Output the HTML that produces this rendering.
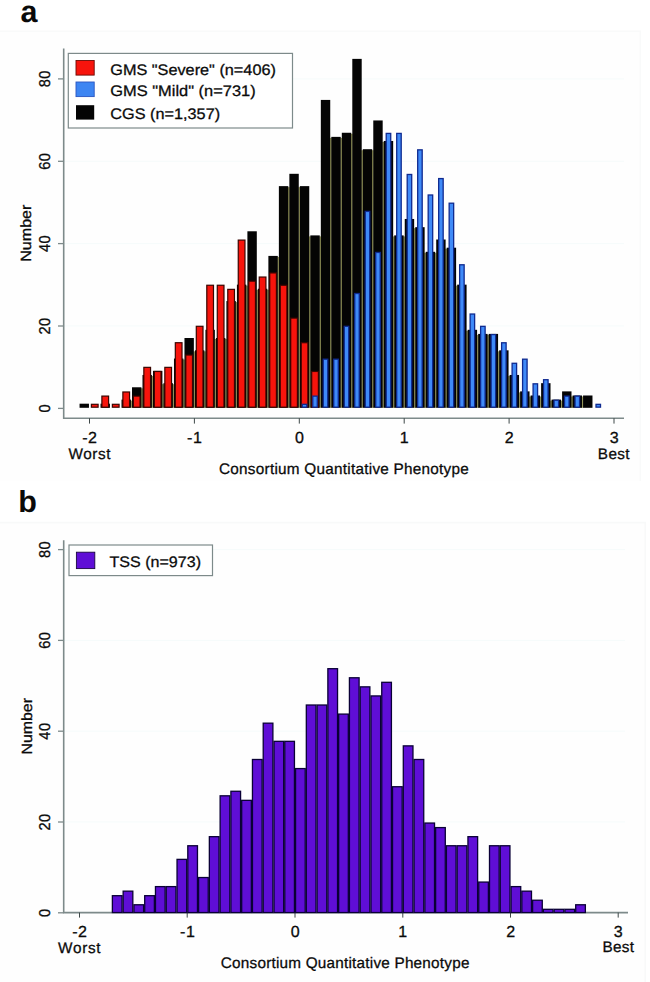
<!DOCTYPE html>
<html><head><meta charset="utf-8"><title>Figure</title>
<style>
html,body{margin:0;padding:0;background:#fff;}
body{width:650px;height:982px;overflow:hidden;font-family:"Liberation Sans",sans-serif;}
svg{display:block;}
text{font-family:"Liberation Sans",sans-serif;fill:#0a0a0a;text-rendering:geometricPrecision;}
.k{font-size:16px;letter-spacing:0.6px;stroke:#0a0a0a;stroke-width:0.3px;}
.ky{font-size:16px;letter-spacing:0.5px;stroke:#0a0a0a;stroke-width:0.3px;}
.n{font-size:14.8px;stroke:#0a0a0a;stroke-width:0.3px;}
.t{font-size:15.3px;stroke:#0a0a0a;stroke-width:0.28px;}
.lab{font-size:30.5px;font-weight:bold;}
</style></head><body>
<svg width="650" height="982" viewBox="0 0 650 982">
<rect x="0" y="0" width="650" height="982" fill="#ffffff"/>
<rect x="0" y="31.3" width="640.3" height="450" fill="#fefefe"/>
<path d="M0 31.3 H640.3 V481" fill="none" stroke="#f9fafa" stroke-width="1.4"/>
<rect x="0" y="522.6" width="645.2" height="459.4" fill="#fefefe"/>
<path d="M0 522.6 H645.2 V982" fill="none" stroke="#f8f9f9" stroke-width="1.6"/>
<!-- panel a -->
<text class="lab" x="20.5" y="22">a</text>
<line x1="64" y1="326.0" x2="624" y2="326.0" stroke="#f5fbfb" stroke-width="1"/>
<line x1="64" y1="243.6" x2="624" y2="243.6" stroke="#f5fbfb" stroke-width="1"/>
<line x1="64" y1="161.3" x2="624" y2="161.3" stroke="#f5fbfb" stroke-width="1"/>
<line x1="64" y1="78.9" x2="624" y2="78.9" stroke="#f5fbfb" stroke-width="1"/>
<path d="M63.7 48.5 V418.2 H624" fill="none" stroke="#7d8a8a" stroke-width="1.6"/>
<line x1="58" y1="408.4" x2="63.7" y2="408.4" stroke="#7d8a8a" stroke-width="1.3"/>
<text class="ky" transform="translate(49.9,408.3) rotate(-90) scale(0.91,0.98)" text-anchor="middle">0</text>
<line x1="58" y1="326.0" x2="63.7" y2="326.0" stroke="#7d8a8a" stroke-width="1.3"/>
<text class="ky" transform="translate(49.9,325.9) rotate(-90) scale(0.91,0.98)" text-anchor="middle">20</text>
<line x1="58" y1="243.6" x2="63.7" y2="243.6" stroke="#7d8a8a" stroke-width="1.3"/>
<text class="ky" transform="translate(49.9,243.5) rotate(-90) scale(0.91,0.98)" text-anchor="middle">40</text>
<line x1="58" y1="161.3" x2="63.7" y2="161.3" stroke="#7d8a8a" stroke-width="1.3"/>
<text class="ky" transform="translate(49.9,161.2) rotate(-90) scale(0.91,0.98)" text-anchor="middle">60</text>
<line x1="58" y1="78.9" x2="63.7" y2="78.9" stroke="#7d8a8a" stroke-width="1.3"/>
<text class="ky" transform="translate(49.9,78.8) rotate(-90) scale(0.91,0.98)" text-anchor="middle">80</text>
<line x1="89.5" y1="418.2" x2="89.5" y2="423.6" stroke="#3e4848" stroke-width="1.0"/>
<text class="k" transform="translate(89.9,442.9) scale(1,1)" text-anchor="middle">-2</text>
<line x1="194.4" y1="418.2" x2="194.4" y2="423.6" stroke="#3e4848" stroke-width="1.0"/>
<text class="k" transform="translate(194.8,442.9) scale(1,1)" text-anchor="middle">-1</text>
<line x1="299.3" y1="418.2" x2="299.3" y2="423.6" stroke="#3e4848" stroke-width="1.0"/>
<text class="k" transform="translate(299.7,442.9) scale(1,1)" text-anchor="middle">0</text>
<line x1="404.2" y1="418.2" x2="404.2" y2="423.6" stroke="#3e4848" stroke-width="1.0"/>
<text class="k" transform="translate(404.6,442.9) scale(1,1)" text-anchor="middle">1</text>
<line x1="509.1" y1="418.2" x2="509.1" y2="423.6" stroke="#3e4848" stroke-width="1.0"/>
<text class="k" transform="translate(509.5,442.9) scale(1,1)" text-anchor="middle">2</text>
<line x1="614.0" y1="418.2" x2="614.0" y2="423.6" stroke="#3e4848" stroke-width="1.0"/>
<text class="k" transform="translate(614.4,442.9) scale(1,1)" text-anchor="middle">3</text>
<g shape-rendering="auto">
<rect x="130.46" y="400.59" width="2.00" height="7.21" fill="#95965a"/>
<rect x="140.95" y="388.28" width="2.00" height="19.53" fill="#95965a"/>
<rect x="151.44" y="375.96" width="2.00" height="31.84" fill="#95965a"/>
<rect x="161.93" y="384.17" width="2.00" height="23.63" fill="#95965a"/>
<rect x="172.42" y="384.17" width="2.00" height="23.63" fill="#95965a"/>
<rect x="182.91" y="359.54" width="2.00" height="48.26" fill="#95965a"/>
<rect x="193.40" y="351.33" width="2.00" height="56.47" fill="#95965a"/>
<rect x="203.89" y="351.33" width="2.00" height="56.47" fill="#95965a"/>
<rect x="214.38" y="339.01" width="2.00" height="68.79" fill="#95965a"/>
<rect x="224.87" y="339.01" width="2.00" height="68.79" fill="#95965a"/>
<rect x="235.36" y="302.07" width="2.00" height="105.73" fill="#95965a"/>
<rect x="245.85" y="285.65" width="2.00" height="122.15" fill="#95965a"/>
<rect x="256.34" y="289.75" width="2.00" height="118.05" fill="#95965a"/>
<rect x="266.83" y="289.75" width="2.00" height="118.05" fill="#95965a"/>
<rect x="277.32" y="256.91" width="2.00" height="150.89" fill="#95965a"/>
<rect x="287.81" y="187.13" width="2.00" height="220.67" fill="#95965a"/>
<rect x="298.30" y="187.13" width="2.00" height="220.67" fill="#95965a"/>
<rect x="308.79" y="236.39" width="2.00" height="171.41" fill="#95965a"/>
<rect x="319.28" y="236.39" width="2.00" height="171.41" fill="#95965a"/>
<rect x="329.77" y="137.87" width="2.00" height="269.93" fill="#95965a"/>
<rect x="340.26" y="137.87" width="2.00" height="269.93" fill="#95965a"/>
<rect x="350.75" y="133.76" width="2.00" height="274.04" fill="#95965a"/>
<rect x="361.24" y="150.19" width="2.00" height="257.62" fill="#95965a"/>
<rect x="371.73" y="150.19" width="2.00" height="257.62" fill="#95965a"/>
<rect x="382.22" y="141.97" width="2.00" height="265.83" fill="#95965a"/>
<rect x="392.71" y="236.39" width="2.00" height="171.41" fill="#95965a"/>
<rect x="403.20" y="236.39" width="2.00" height="171.41" fill="#95965a"/>
<rect x="413.69" y="228.18" width="2.00" height="179.62" fill="#95965a"/>
<rect x="424.18" y="252.81" width="2.00" height="154.99" fill="#95965a"/>
<rect x="434.67" y="252.81" width="2.00" height="154.99" fill="#95965a"/>
<rect x="445.16" y="248.70" width="2.00" height="159.10" fill="#95965a"/>
<rect x="455.65" y="285.65" width="2.00" height="122.15" fill="#95965a"/>
<rect x="466.14" y="330.81" width="2.00" height="77.00" fill="#95965a"/>
<rect x="476.63" y="334.91" width="2.00" height="72.89" fill="#95965a"/>
<rect x="487.12" y="334.91" width="2.00" height="72.89" fill="#95965a"/>
<rect x="497.61" y="351.33" width="2.00" height="56.47" fill="#95965a"/>
<rect x="508.10" y="375.96" width="2.00" height="31.84" fill="#95965a"/>
<rect x="518.59" y="392.38" width="2.00" height="15.42" fill="#95965a"/>
<rect x="529.08" y="396.49" width="2.00" height="11.32" fill="#95965a"/>
<rect x="539.57" y="396.49" width="2.00" height="11.32" fill="#95965a"/>
<rect x="550.06" y="400.59" width="2.00" height="7.21" fill="#95965a"/>
<rect x="560.55" y="400.59" width="2.00" height="7.21" fill="#95965a"/>
<rect x="571.04" y="396.49" width="2.00" height="11.32" fill="#95965a"/>
<rect x="581.53" y="396.49" width="2.00" height="11.32" fill="#95965a"/>
<rect x="79.56" y="403.69" width="9.40" height="4.11" fill="#040404"/>
<rect x="100.54" y="403.69" width="9.40" height="4.11" fill="#040404"/>
<rect x="121.52" y="399.59" width="9.40" height="8.21" fill="#040404"/>
<rect x="132.01" y="387.28" width="9.40" height="20.53" fill="#040404"/>
<rect x="142.50" y="374.96" width="9.40" height="32.84" fill="#040404"/>
<rect x="152.99" y="370.86" width="9.40" height="36.95" fill="#040404"/>
<rect x="163.48" y="383.17" width="9.40" height="24.63" fill="#040404"/>
<rect x="173.97" y="358.54" width="9.40" height="49.26" fill="#040404"/>
<rect x="184.46" y="338.01" width="9.40" height="69.79" fill="#040404"/>
<rect x="194.95" y="350.33" width="9.40" height="57.47" fill="#040404"/>
<rect x="205.44" y="329.81" width="9.40" height="78.00" fill="#040404"/>
<rect x="215.93" y="338.01" width="9.40" height="69.79" fill="#040404"/>
<rect x="226.42" y="301.07" width="9.40" height="106.73" fill="#040404"/>
<rect x="236.91" y="284.65" width="9.40" height="123.15" fill="#040404"/>
<rect x="247.40" y="231.28" width="9.40" height="176.52" fill="#040404"/>
<rect x="257.89" y="288.75" width="9.40" height="119.05" fill="#040404"/>
<rect x="268.38" y="255.91" width="9.40" height="151.89" fill="#040404"/>
<rect x="278.87" y="186.13" width="9.40" height="221.67" fill="#040404"/>
<rect x="289.36" y="173.81" width="9.40" height="233.99" fill="#040404"/>
<rect x="299.85" y="186.13" width="9.40" height="221.67" fill="#040404"/>
<rect x="310.34" y="235.39" width="9.40" height="172.41" fill="#040404"/>
<rect x="320.83" y="99.92" width="9.40" height="307.88" fill="#040404"/>
<rect x="331.31" y="136.87" width="9.40" height="270.93" fill="#040404"/>
<rect x="341.81" y="132.76" width="9.40" height="275.04" fill="#040404"/>
<rect x="352.30" y="58.88" width="9.40" height="348.93" fill="#040404"/>
<rect x="362.79" y="149.19" width="9.40" height="258.62" fill="#040404"/>
<rect x="373.28" y="120.45" width="9.40" height="287.35" fill="#040404"/>
<rect x="383.77" y="140.97" width="9.40" height="266.83" fill="#040404"/>
<rect x="394.26" y="235.39" width="9.40" height="172.41" fill="#040404"/>
<rect x="404.75" y="218.97" width="9.40" height="188.83" fill="#040404"/>
<rect x="415.24" y="227.18" width="9.40" height="180.62" fill="#040404"/>
<rect x="425.73" y="251.81" width="9.40" height="155.99" fill="#040404"/>
<rect x="436.22" y="239.50" width="9.40" height="168.31" fill="#040404"/>
<rect x="446.71" y="247.70" width="9.40" height="160.10" fill="#040404"/>
<rect x="457.19" y="284.65" width="9.40" height="123.15" fill="#040404"/>
<rect x="467.69" y="329.81" width="9.40" height="78.00" fill="#040404"/>
<rect x="478.18" y="333.91" width="9.40" height="73.89" fill="#040404"/>
<rect x="488.67" y="333.91" width="9.40" height="73.89" fill="#040404"/>
<rect x="499.16" y="350.33" width="9.40" height="57.47" fill="#040404"/>
<rect x="509.65" y="374.96" width="9.40" height="32.84" fill="#040404"/>
<rect x="520.13" y="391.38" width="9.40" height="16.42" fill="#040404"/>
<rect x="530.62" y="395.49" width="9.40" height="12.32" fill="#040404"/>
<rect x="541.12" y="383.17" width="9.40" height="24.63" fill="#040404"/>
<rect x="551.61" y="399.59" width="9.40" height="8.21" fill="#040404"/>
<rect x="562.10" y="391.38" width="9.40" height="16.42" fill="#040404"/>
<rect x="572.59" y="395.49" width="9.40" height="12.32" fill="#040404"/>
<rect x="583.07" y="395.49" width="9.40" height="12.32" fill="#040404"/>
<rect x="91.40" y="404.30" width="6.70" height="2.91" fill="#f7140c" stroke="#3a0500" stroke-width="1.2"/>
<rect x="101.89" y="396.09" width="6.70" height="11.12" fill="#f7140c" stroke="#3a0500" stroke-width="1.2"/>
<rect x="112.38" y="404.30" width="6.70" height="2.91" fill="#f7140c" stroke="#3a0500" stroke-width="1.2"/>
<rect x="122.87" y="391.98" width="6.70" height="15.22" fill="#f7140c" stroke="#3a0500" stroke-width="1.2"/>
<rect x="133.36" y="396.09" width="6.70" height="11.12" fill="#f7140c" stroke="#3a0500" stroke-width="1.2"/>
<rect x="143.85" y="367.35" width="6.70" height="39.85" fill="#f7140c" stroke="#3a0500" stroke-width="1.2"/>
<rect x="154.34" y="371.46" width="6.70" height="35.75" fill="#f7140c" stroke="#3a0500" stroke-width="1.2"/>
<rect x="164.83" y="367.35" width="6.70" height="39.85" fill="#f7140c" stroke="#3a0500" stroke-width="1.2"/>
<rect x="175.32" y="342.72" width="6.70" height="64.48" fill="#f7140c" stroke="#3a0500" stroke-width="1.2"/>
<rect x="185.81" y="355.04" width="6.70" height="52.17" fill="#f7140c" stroke="#3a0500" stroke-width="1.2"/>
<rect x="196.30" y="326.30" width="6.70" height="80.90" fill="#f7140c" stroke="#3a0500" stroke-width="1.2"/>
<rect x="206.79" y="285.25" width="6.70" height="121.95" fill="#f7140c" stroke="#3a0500" stroke-width="1.2"/>
<rect x="217.28" y="285.25" width="6.70" height="121.95" fill="#f7140c" stroke="#3a0500" stroke-width="1.2"/>
<rect x="227.77" y="289.36" width="6.70" height="117.85" fill="#f7140c" stroke="#3a0500" stroke-width="1.2"/>
<rect x="238.26" y="240.09" width="6.70" height="167.11" fill="#f7140c" stroke="#3a0500" stroke-width="1.2"/>
<rect x="248.75" y="281.15" width="6.70" height="126.06" fill="#f7140c" stroke="#3a0500" stroke-width="1.2"/>
<rect x="259.24" y="277.04" width="6.70" height="130.16" fill="#f7140c" stroke="#3a0500" stroke-width="1.2"/>
<rect x="269.73" y="272.94" width="6.70" height="134.27" fill="#f7140c" stroke="#3a0500" stroke-width="1.2"/>
<rect x="280.22" y="285.25" width="6.70" height="121.95" fill="#f7140c" stroke="#3a0500" stroke-width="1.2"/>
<rect x="290.71" y="318.09" width="6.70" height="89.11" fill="#f7140c" stroke="#3a0500" stroke-width="1.2"/>
<rect x="301.19" y="342.72" width="6.70" height="64.48" fill="#f7140c" stroke="#3a0500" stroke-width="1.2"/>
<rect x="311.69" y="371.46" width="6.70" height="35.75" fill="#f7140c" stroke="#3a0500" stroke-width="1.2"/>
<rect x="302.30" y="404.34" width="4.50" height="2.81" fill="#3f8af8" stroke="#0f2a90" stroke-width="1.3"/>
<rect x="312.79" y="396.13" width="4.50" height="11.02" fill="#3f8af8" stroke="#0f2a90" stroke-width="1.3"/>
<rect x="323.28" y="359.19" width="4.50" height="47.96" fill="#3f8af8" stroke="#0f2a90" stroke-width="1.3"/>
<rect x="333.76" y="359.19" width="4.50" height="47.96" fill="#3f8af8" stroke="#0f2a90" stroke-width="1.3"/>
<rect x="344.25" y="326.35" width="4.50" height="80.80" fill="#3f8af8" stroke="#0f2a90" stroke-width="1.3"/>
<rect x="354.75" y="293.51" width="4.50" height="113.64" fill="#3f8af8" stroke="#0f2a90" stroke-width="1.3"/>
<rect x="365.24" y="211.41" width="4.50" height="195.74" fill="#3f8af8" stroke="#0f2a90" stroke-width="1.3"/>
<rect x="375.73" y="252.46" width="4.50" height="154.69" fill="#3f8af8" stroke="#0f2a90" stroke-width="1.3"/>
<rect x="386.22" y="133.41" width="4.50" height="273.74" fill="#3f8af8" stroke="#0f2a90" stroke-width="1.3"/>
<rect x="396.71" y="133.41" width="4.50" height="273.74" fill="#3f8af8" stroke="#0f2a90" stroke-width="1.3"/>
<rect x="407.20" y="174.47" width="4.50" height="232.69" fill="#3f8af8" stroke="#0f2a90" stroke-width="1.3"/>
<rect x="417.69" y="149.84" width="4.50" height="257.31" fill="#3f8af8" stroke="#0f2a90" stroke-width="1.3"/>
<rect x="428.18" y="194.99" width="4.50" height="212.16" fill="#3f8af8" stroke="#0f2a90" stroke-width="1.3"/>
<rect x="438.67" y="178.57" width="4.50" height="228.58" fill="#3f8af8" stroke="#0f2a90" stroke-width="1.3"/>
<rect x="449.16" y="203.20" width="4.50" height="203.95" fill="#3f8af8" stroke="#0f2a90" stroke-width="1.3"/>
<rect x="459.64" y="264.77" width="4.50" height="142.38" fill="#3f8af8" stroke="#0f2a90" stroke-width="1.3"/>
<rect x="470.13" y="314.03" width="4.50" height="93.12" fill="#3f8af8" stroke="#0f2a90" stroke-width="1.3"/>
<rect x="480.62" y="326.35" width="4.50" height="80.80" fill="#3f8af8" stroke="#0f2a90" stroke-width="1.3"/>
<rect x="491.12" y="334.56" width="4.50" height="72.59" fill="#3f8af8" stroke="#0f2a90" stroke-width="1.3"/>
<rect x="501.61" y="342.77" width="4.50" height="64.38" fill="#3f8af8" stroke="#0f2a90" stroke-width="1.3"/>
<rect x="512.10" y="363.29" width="4.50" height="43.86" fill="#3f8af8" stroke="#0f2a90" stroke-width="1.3"/>
<rect x="522.59" y="359.19" width="4.50" height="47.96" fill="#3f8af8" stroke="#0f2a90" stroke-width="1.3"/>
<rect x="533.08" y="383.82" width="4.50" height="23.33" fill="#3f8af8" stroke="#0f2a90" stroke-width="1.3"/>
<rect x="543.57" y="379.71" width="4.50" height="27.44" fill="#3f8af8" stroke="#0f2a90" stroke-width="1.3"/>
<rect x="554.06" y="400.24" width="4.50" height="6.91" fill="#3f8af8" stroke="#0f2a90" stroke-width="1.3"/>
<rect x="564.55" y="396.13" width="4.50" height="11.02" fill="#3f8af8" stroke="#0f2a90" stroke-width="1.3"/>
<rect x="575.04" y="396.13" width="4.50" height="11.02" fill="#3f8af8" stroke="#0f2a90" stroke-width="1.3"/>
<rect x="596.01" y="404.34" width="4.50" height="2.81" fill="#3f8af8" stroke="#0f2a90" stroke-width="1.3"/>
</g>
<rect x="68.3" y="53.4" width="224.2" height="74.6" fill="#ffffff" stroke="#7d8a8a" stroke-width="1.2"/>
<rect x="76" y="60.5" width="18.2" height="14.6" fill="#f7140c" stroke="#6a0a05" stroke-width="0.9"/>
<rect x="76" y="82" width="18.2" height="14.6" fill="#3d85f2" stroke="#2a55c0" stroke-width="0.9"/>
<rect x="76" y="105.2" width="18.2" height="14.4" fill="#040404"/>
<text class="t" x="110.3" y="74.5" textLength="165.6" lengthAdjust="spacingAndGlyphs">GMS "Severe" (n=406)</text>
<text class="t" x="110.3" y="96.4" textLength="145.4" lengthAdjust="spacingAndGlyphs">GMS "Mild" (n=731)</text>
<text class="t" x="110.3" y="118.5" textLength="109.8" lengthAdjust="spacingAndGlyphs">CGS (n=1,357)</text>
<text class="n" transform="translate(31.2,233.2) rotate(-90)" text-anchor="middle" textLength="57" lengthAdjust="spacingAndGlyphs">Number</text>
<text class="t" x="89.5" y="459.4" text-anchor="middle" textLength="42" lengthAdjust="spacing">Worst</text>
<text class="t" x="613.7" y="459" text-anchor="middle" textLength="31.8" lengthAdjust="spacing">Best</text>
<text class="t" x="219" y="473.8" textLength="249.8" lengthAdjust="spacing">Consortium Quantitative Phenotype</text>
<!-- panel b -->
<text class="lab" x="18.3" y="512.2">b</text>
<line x1="64" y1="822.0" x2="625" y2="822.0" stroke="#f5fbfb" stroke-width="1"/>
<line x1="64" y1="731.2" x2="625" y2="731.2" stroke="#f5fbfb" stroke-width="1"/>
<line x1="64" y1="640.4" x2="625" y2="640.4" stroke="#f5fbfb" stroke-width="1"/>
<line x1="64" y1="549.6" x2="625" y2="549.6" stroke="#f5fbfb" stroke-width="1"/>
<path d="M63.7 540.2 V912.6 H628" fill="none" stroke="#7d8a8a" stroke-width="1.6"/>
<line x1="58" y1="912.8" x2="63.7" y2="912.8" stroke="#7d8a8a" stroke-width="1.3"/>
<text class="ky" transform="translate(50.0,912.7) rotate(-90) scale(0.91,0.98)" text-anchor="middle">0</text>
<line x1="58" y1="822.0" x2="63.7" y2="822.0" stroke="#7d8a8a" stroke-width="1.3"/>
<text class="ky" transform="translate(50.0,821.9) rotate(-90) scale(0.91,0.98)" text-anchor="middle">20</text>
<line x1="58" y1="731.2" x2="63.7" y2="731.2" stroke="#7d8a8a" stroke-width="1.3"/>
<text class="ky" transform="translate(50.0,731.1) rotate(-90) scale(0.91,0.98)" text-anchor="middle">40</text>
<line x1="58" y1="640.4" x2="63.7" y2="640.4" stroke="#7d8a8a" stroke-width="1.3"/>
<text class="ky" transform="translate(50.0,640.3) rotate(-90) scale(0.91,0.98)" text-anchor="middle">60</text>
<line x1="58" y1="549.6" x2="63.7" y2="549.6" stroke="#7d8a8a" stroke-width="1.3"/>
<text class="ky" transform="translate(50.0,549.5) rotate(-90) scale(0.91,0.98)" text-anchor="middle">80</text>
<line x1="79.5" y1="912.6" x2="79.5" y2="917.6" stroke="#3e4848" stroke-width="1.0"/>
<text class="k" transform="translate(79.9,936.7) scale(1,1)" text-anchor="middle">-2</text>
<line x1="187.2" y1="912.6" x2="187.2" y2="917.6" stroke="#3e4848" stroke-width="1.0"/>
<text class="k" transform="translate(187.7,936.7) scale(1,1)" text-anchor="middle">-1</text>
<line x1="295.0" y1="912.6" x2="295.0" y2="917.6" stroke="#3e4848" stroke-width="1.0"/>
<text class="k" transform="translate(295.4,936.7) scale(1,1)" text-anchor="middle">0</text>
<line x1="402.8" y1="912.6" x2="402.8" y2="917.6" stroke="#3e4848" stroke-width="1.0"/>
<text class="k" transform="translate(403.1,936.7) scale(1,1)" text-anchor="middle">1</text>
<line x1="510.5" y1="912.6" x2="510.5" y2="917.6" stroke="#3e4848" stroke-width="1.0"/>
<text class="k" transform="translate(510.9,936.7) scale(1,1)" text-anchor="middle">2</text>
<line x1="618.2" y1="912.6" x2="618.2" y2="917.6" stroke="#3e4848" stroke-width="1.0"/>
<text class="k" transform="translate(618.6,936.7) scale(1,1)" text-anchor="middle">3</text>
<rect x="112.38" y="895.69" width="9.67" height="16.86" fill="#5f0ed6" stroke="#0a0036" stroke-width="1.3"/>
<rect x="123.15" y="891.15" width="9.67" height="21.40" fill="#5f0ed6" stroke="#0a0036" stroke-width="1.3"/>
<rect x="133.93" y="904.77" width="9.67" height="7.78" fill="#5f0ed6" stroke="#0a0036" stroke-width="1.3"/>
<rect x="144.70" y="895.69" width="9.67" height="16.86" fill="#5f0ed6" stroke="#0a0036" stroke-width="1.3"/>
<rect x="155.47" y="886.61" width="9.67" height="25.94" fill="#5f0ed6" stroke="#0a0036" stroke-width="1.3"/>
<rect x="166.25" y="886.61" width="9.67" height="25.94" fill="#5f0ed6" stroke="#0a0036" stroke-width="1.3"/>
<rect x="177.03" y="859.37" width="9.67" height="53.18" fill="#5f0ed6" stroke="#0a0036" stroke-width="1.3"/>
<rect x="187.80" y="845.75" width="9.67" height="66.80" fill="#5f0ed6" stroke="#0a0036" stroke-width="1.3"/>
<rect x="198.57" y="877.53" width="9.67" height="35.02" fill="#5f0ed6" stroke="#0a0036" stroke-width="1.3"/>
<rect x="209.35" y="836.67" width="9.67" height="75.88" fill="#5f0ed6" stroke="#0a0036" stroke-width="1.3"/>
<rect x="220.12" y="795.81" width="9.67" height="116.74" fill="#5f0ed6" stroke="#0a0036" stroke-width="1.3"/>
<rect x="230.90" y="791.27" width="9.67" height="121.28" fill="#5f0ed6" stroke="#0a0036" stroke-width="1.3"/>
<rect x="241.68" y="800.35" width="9.67" height="112.20" fill="#5f0ed6" stroke="#0a0036" stroke-width="1.3"/>
<rect x="252.45" y="759.49" width="9.67" height="153.06" fill="#5f0ed6" stroke="#0a0036" stroke-width="1.3"/>
<rect x="263.22" y="723.17" width="9.67" height="189.38" fill="#5f0ed6" stroke="#0a0036" stroke-width="1.3"/>
<rect x="274.00" y="741.33" width="9.67" height="171.22" fill="#5f0ed6" stroke="#0a0036" stroke-width="1.3"/>
<rect x="284.77" y="741.33" width="9.67" height="171.22" fill="#5f0ed6" stroke="#0a0036" stroke-width="1.3"/>
<rect x="295.55" y="768.57" width="9.67" height="143.98" fill="#5f0ed6" stroke="#0a0036" stroke-width="1.3"/>
<rect x="306.32" y="705.01" width="9.67" height="207.54" fill="#5f0ed6" stroke="#0a0036" stroke-width="1.3"/>
<rect x="317.10" y="705.01" width="9.67" height="207.54" fill="#5f0ed6" stroke="#0a0036" stroke-width="1.3"/>
<rect x="327.87" y="668.69" width="9.67" height="243.86" fill="#5f0ed6" stroke="#0a0036" stroke-width="1.3"/>
<rect x="338.65" y="714.09" width="9.67" height="198.46" fill="#5f0ed6" stroke="#0a0036" stroke-width="1.3"/>
<rect x="349.42" y="677.77" width="9.67" height="234.78" fill="#5f0ed6" stroke="#0a0036" stroke-width="1.3"/>
<rect x="360.20" y="686.85" width="9.67" height="225.70" fill="#5f0ed6" stroke="#0a0036" stroke-width="1.3"/>
<rect x="370.97" y="695.93" width="9.67" height="216.62" fill="#5f0ed6" stroke="#0a0036" stroke-width="1.3"/>
<rect x="381.75" y="682.31" width="9.67" height="230.24" fill="#5f0ed6" stroke="#0a0036" stroke-width="1.3"/>
<rect x="392.52" y="786.73" width="9.67" height="125.82" fill="#5f0ed6" stroke="#0a0036" stroke-width="1.3"/>
<rect x="403.30" y="745.87" width="9.67" height="166.68" fill="#5f0ed6" stroke="#0a0036" stroke-width="1.3"/>
<rect x="414.07" y="759.49" width="9.67" height="153.06" fill="#5f0ed6" stroke="#0a0036" stroke-width="1.3"/>
<rect x="424.85" y="823.05" width="9.67" height="89.50" fill="#5f0ed6" stroke="#0a0036" stroke-width="1.3"/>
<rect x="435.62" y="827.59" width="9.67" height="84.96" fill="#5f0ed6" stroke="#0a0036" stroke-width="1.3"/>
<rect x="446.40" y="845.75" width="9.67" height="66.80" fill="#5f0ed6" stroke="#0a0036" stroke-width="1.3"/>
<rect x="457.17" y="845.75" width="9.67" height="66.80" fill="#5f0ed6" stroke="#0a0036" stroke-width="1.3"/>
<rect x="467.95" y="836.67" width="9.67" height="75.88" fill="#5f0ed6" stroke="#0a0036" stroke-width="1.3"/>
<rect x="478.72" y="882.07" width="9.67" height="30.48" fill="#5f0ed6" stroke="#0a0036" stroke-width="1.3"/>
<rect x="489.50" y="845.75" width="9.67" height="66.80" fill="#5f0ed6" stroke="#0a0036" stroke-width="1.3"/>
<rect x="500.27" y="845.75" width="9.67" height="66.80" fill="#5f0ed6" stroke="#0a0036" stroke-width="1.3"/>
<rect x="511.05" y="886.61" width="9.67" height="25.94" fill="#5f0ed6" stroke="#0a0036" stroke-width="1.3"/>
<rect x="521.82" y="891.15" width="9.67" height="21.40" fill="#5f0ed6" stroke="#0a0036" stroke-width="1.3"/>
<rect x="532.60" y="900.23" width="9.67" height="12.32" fill="#5f0ed6" stroke="#0a0036" stroke-width="1.3"/>
<rect x="543.38" y="909.31" width="9.67" height="3.24" fill="#5f0ed6" stroke="#0a0036" stroke-width="1.3"/>
<rect x="554.15" y="909.31" width="9.67" height="3.24" fill="#5f0ed6" stroke="#0a0036" stroke-width="1.3"/>
<rect x="564.92" y="909.31" width="9.67" height="3.24" fill="#5f0ed6" stroke="#0a0036" stroke-width="1.3"/>
<rect x="575.70" y="904.77" width="9.67" height="7.78" fill="#5f0ed6" stroke="#0a0036" stroke-width="1.3"/>
<rect x="69" y="545" width="143.5" height="30.6" fill="#ffffff" stroke="#7d8a8a" stroke-width="1.2"/>
<rect x="76.4" y="552.2" width="18.4" height="16.4" fill="#5f0ed6" stroke="#1a0640" stroke-width="0.9"/>
<text class="t" x="109.5" y="567.3" textLength="91.5" lengthAdjust="spacingAndGlyphs">TSS (n=973)</text>
<text class="n" transform="translate(31.6,726.3) rotate(-90)" text-anchor="middle" textLength="56.6" lengthAdjust="spacingAndGlyphs">Number</text>
<text class="t" x="79.3" y="952.5" text-anchor="middle" textLength="42.5" lengthAdjust="spacing">Worst</text>
<text class="t" x="618.3" y="952.3" text-anchor="middle" textLength="31.6" lengthAdjust="spacing">Best</text>
<text class="t" x="220.8" y="968.3" textLength="248.6" lengthAdjust="spacing">Consortium Quantitative Phenotype</text>
</svg>
</body></html>
